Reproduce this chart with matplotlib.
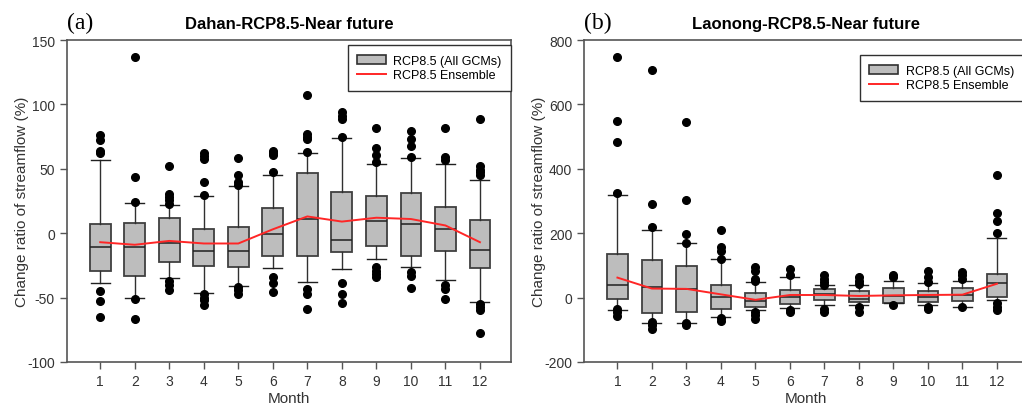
import numpy as np
import matplotlib.pyplot as plt
from matplotlib.patches import Patch
from matplotlib.lines import Line2D

plt.rcParams['font.family'] = ['Liberation Sans', 'DejaVu Sans']
plt.rcParams['font.size'] = 10
plt.rcParams['axes.unicode_minus'] = False

months = list(range(1, 13))

# ---------------------------------------------------------------- Dahan
dahan_q1 = [-29, -33, -22, -25.5, -26.3, -18, -18, -15, -10, -18, -14, -27]
dahan_med = [-10.5, -11, -8, -13.5, -13.5, -0.5, 11, -5, 9.5, 7, 3.5, -13]
dahan_q3 = [7, 8, 11.5, 3, 4.7, 19.5, 47, 32, 28.7, 31, 20, 10]
dahan_lo = [-38.7, -50.4, -34.8, -46.5, -41, -27, -38.2, -28, -20.4, -26.3, -36.7, -53.5]
dahan_hi = [57, 23.3, 21.8, 29, 36.5, 45, 62, 74, 54, 58, 54, 41]
dahan_out = [
    [76, 72, 64, 62, -45, -53, -65],
    [136.5, 43.5, 24.5, -51, -66.5],
    [52, 30.5, 28, 25.5, 23, -37.5, -40, -44],
    [62, 60, 57.5, 40, 30, -47, -50, -52, -55.5],
    [58, 45.5, 39.5, 37.5, -42, -44.5, -47],
    [64, 62.5, 61, 47.5, -34, -38.5, -46],
    [107, 77, 75, 73, 63, -43, -47, -59],
    [94, 91, 88.5, 74.5, -39, -47, -54],
    [82, 66, 61, 55, -26, -29, -31.5, -34],
    [79.5, 73.5, 67.5, 59, -30, -33, -42.5],
    [82, 59.5, 57, -40, -43, -51],
    [88.5, 52, 49, 47.5, 45, -55, -57.5, -60, -77.5],
]
dahan_ens = [-7, -9, -6, -8, -8, 3, 13, 9, 12, 11, 6, -7]

# ---------------------------------------------------------------- Laonong
laonong_q1 = [-5, -47, -45, -35, -28, -19, -9, -15, -17, -14, -10, 3]
laonong_med = [40, 32, 28, 1, -10, 3, 12, -3, 4, 3, 9, 46]
laonong_q3 = [136, 118, 97, 38, 13, 22, 28, 19, 29, 19, 29, 72]
laonong_lo = [-39, -78, -78, -59, -39, -31, -23, -23, -17, -22, -28, -7]
laonong_hi = [320, 210, 168, 120, 47, 64, 39, 39, 51, 45, 53, 184]
laonong_out = [
    [746, 547, 482, 325, -35, -45, -57],
    [706, 291, 219, -76, -86, -99],
    [546, 302, 198, 168, -78, -86],
    [210, 157, 146, 120, -63, -74],
    [95, 84, 59, 50, -45, -55, -66],
    [90, 69, -39, -44],
    [71, 58, 48, 40, -35, -45],
    [63, 50, 41, -29, -45],
    [71, 64, -24],
    [84, 64, 48, -29, -35],
    [79, 71, 58, -30],
    [381, 262, 239, 200, -16, -29, -39],
]
laonong_ens = [62, 28, 27, 10, -7, 8, 8, 5, 7, 8, 9, 43]

legend_labels = ['RCP8.5 (All GCMs)', 'RCP8.5 Ensemble']


def stats_list(q1, med, q3, lo, hi, out):
    return [dict(q1=a, med=b, q3=c, whislo=d, whishi=e, fliers=f)
            for a, b, c, d, e, f in zip(q1, med, q3, lo, hi, out)]


def draw_panel(ax, stats, ens, title, tag, ylim, yticks):
    ax.bxp(stats, positions=months, widths=0.6, capwidths=0.55,
           showfliers=True, patch_artist=True,
           boxprops=dict(facecolor='#bdbdbd', edgecolor='#404040', linewidth=1.3),
           medianprops=dict(color='#202020', linewidth=1.1),
           whiskerprops=dict(color='#303030', linewidth=1.0),
           capprops=dict(color='#202020', linewidth=1.0),
           flierprops=dict(marker='o', markerfacecolor='black',
                           markeredgecolor='black', markersize=5.5))
    ax.plot(months, ens, color='#ff2626', linewidth=1.4, zorder=5)

    ax.set_xlim(0.03, 12.9)
    ax.set_ylim(*ylim)
    ax.set_yticks(yticks)
    ax.set_xticks(months)
    ax.set_xticklabels([str(m) for m in months])
    for sp in ax.spines.values():
        sp.set_color('#555555')
        sp.set_linewidth(1.2)
    ax.tick_params(direction='out', length=5, width=1, colors='#555555',
                   labelcolor='#333333', labelsize=10)
    ax.set_xlabel('Month', fontsize=11, color='#333333', labelpad=2)
    ax.set_ylabel('Change ratio of streamflow (%)', fontsize=11,
                  color='#333333', labelpad=-1)
    ax.set_title(title, fontsize=12, fontweight='bold', pad=9)
    ax.text(0.0, 1.056, tag, transform=ax.transAxes, fontsize=17,
            family=['Liberation Serif', 'DejaVu Serif'], va='center', ha='left')

    handles = [Patch(facecolor='#bdbdbd', edgecolor='#303030', linewidth=1.2),
               Line2D([0], [0], color='#ff2626', linewidth=1.4)]
    return handles


def add_legend(ax, handles, loc, anchor):
    leg = ax.legend(handles, legend_labels, loc=loc, bbox_to_anchor=anchor,
                    borderaxespad=0, fontsize=9, fancybox=False,
                    edgecolor='#303030', framealpha=1, handlelength=2.3,
                    handleheight=0.8, handletextpad=0.6, borderpad=0.75,
                    labelspacing=0.2)
    leg.get_frame().set_linewidth(1.0)
    return leg


fig = plt.figure(figsize=(10.22, 4.06), dpi=100)
ax1 = fig.add_axes([0.0653, 0.106, 0.4347, 0.793])
ax2 = fig.add_axes([0.5714, 0.106, 0.4345, 0.793])

h = draw_panel(ax1, stats_list(dahan_q1, dahan_med, dahan_q3, dahan_lo, dahan_hi, dahan_out),
               dahan_ens, 'Dahan-RCP8.5-Near future', '(a)', (-100, 150),
               [-100, -50, 0, 50, 100, 150])
add_legend(ax1, h, 'upper right', (1.0, 0.984))

h = draw_panel(ax2, stats_list(laonong_q1, laonong_med, laonong_q3, laonong_lo, laonong_hi, laonong_out),
               laonong_ens, 'Laonong-RCP8.5-Near future', '(b)', (-200, 800),
               [-200, 0, 200, 400, 600, 800])
add_legend(ax2, h, 'upper left', (0.6216, 0.953))

fig.savefig('out.png', dpi=100)
